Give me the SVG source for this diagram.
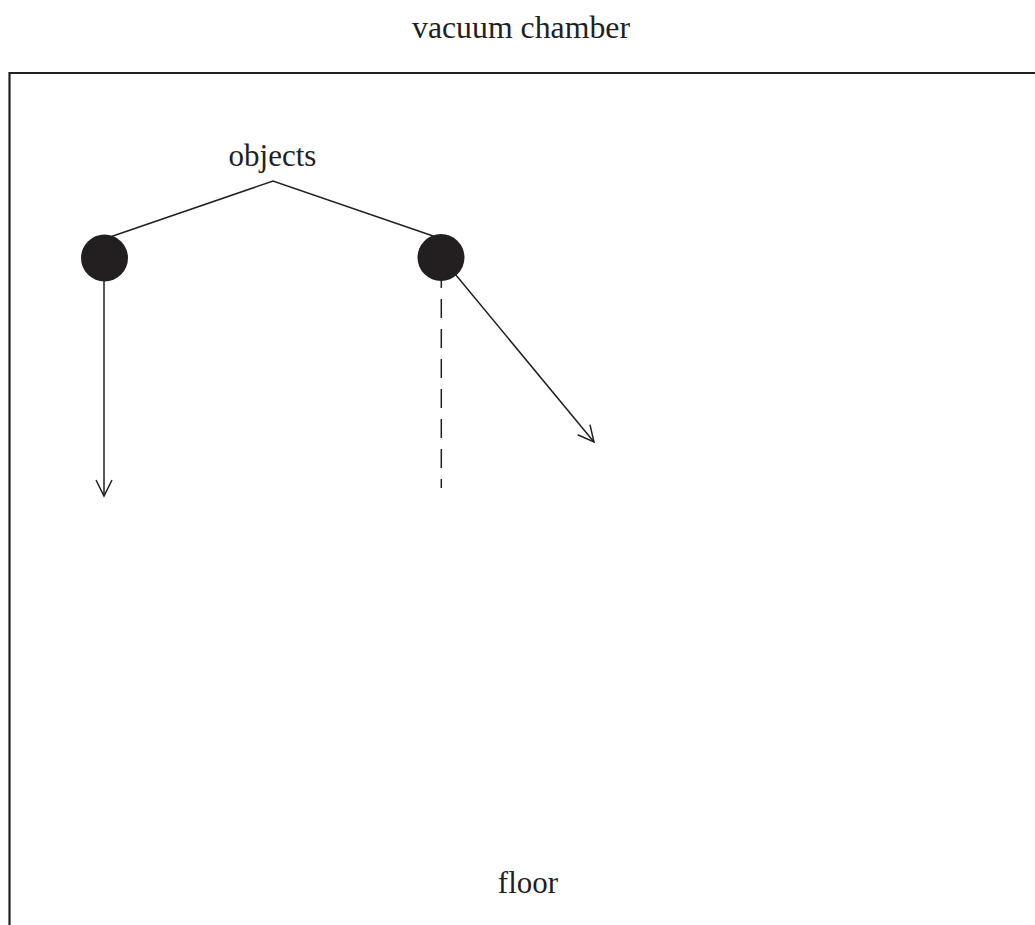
<svg xmlns="http://www.w3.org/2000/svg" width="1035" height="925" viewBox="0 0 1035 925">
<style>
text{font-family:"Liberation Serif","Times New Roman",serif;font-size:31px;fill:#231f20;text-anchor:middle}
.ln{stroke:#231f20;stroke-width:1.5;fill:none}
.ball{fill:#231f20}
</style>
<defs>
<marker id="arr" viewBox="0 0 20 20" refX="17" refY="10" markerWidth="20" markerHeight="20" markerUnits="userSpaceOnUse" orient="auto">
<path d="M1,2 L17,10 L1,18" fill="none" stroke="#231f20" stroke-width="1.5"/>
</marker>
</defs>
<rect width="1035" height="925" fill="#fff"/>
<g id="chamber">
<path d="M9.5,925 V73 H1035" fill="none" stroke="#231f20" stroke-width="2.2"/>
<text x="521" y="38" textLength="218" lengthAdjust="spacingAndGlyphs">vacuum chamber</text>
</g>
<g id="connectors">
<path class="ln" d="M110,237 L273,181 L436,237"/>
<line class="ln" x1="104" y1="281" x2="104" y2="496" marker-end="url(#arr)"/>
<line class="ln" x1="441.3" y1="269" x2="441.3" y2="488" stroke-dasharray="19 11"/>
<line class="ln" x1="441" y1="257" x2="594" y2="442" marker-end="url(#arr)"/>
</g>
<g id="objects">
<text x="272.5" y="166">objects</text>
</g>
<g id="ball1"><circle class="ball" cx="104.5" cy="258" r="23.5"/></g>
<g id="ball2"><circle class="ball" cx="441" cy="257.5" r="23.5"/></g>
<g id="floor">
<text x="528" y="893">floor</text>
</g>
</svg>
